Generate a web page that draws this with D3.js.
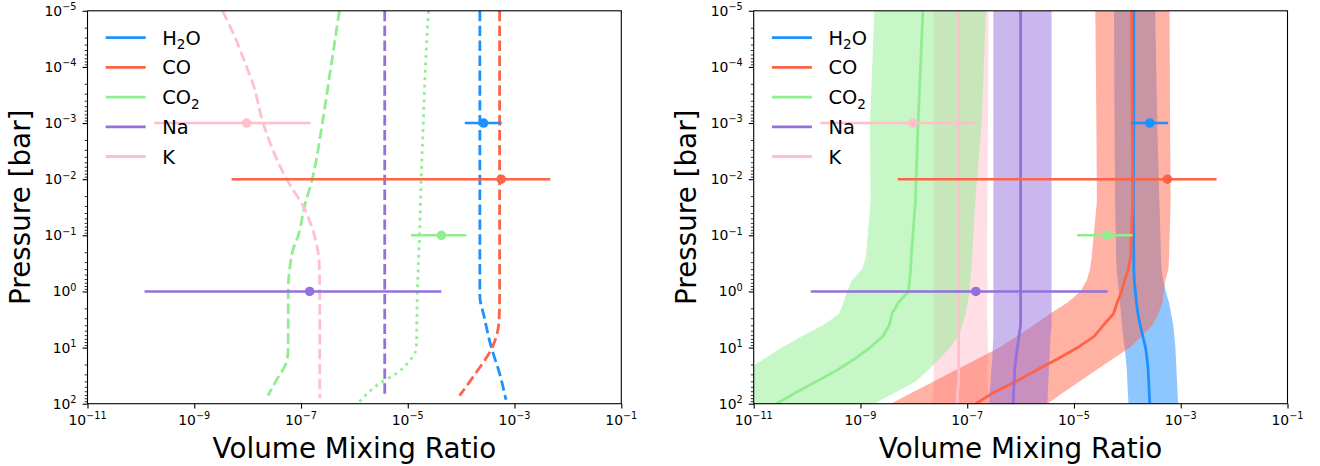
<!DOCTYPE html>
<html>
<head>
<meta charset="utf-8">
<script src="https://cdn.jsdelivr.net/npm/d3@7"></script>
<style>
  body { margin: 0; background: #fff; }
  text { font-family: "DejaVu Sans", sans-serif; fill: #000; }
</style>
</head>
<body>
<svg id="chart" width="1320" height="466"></svg>
<script>
// ---------------- data ----------------
const species = ["H2O", "CO", "CO2", "Na", "K"];

// measured abundances with uncertainty ranges (shown in both panels)
const obsPressure = [1e-3, 1e-2, 1e-1, 1, 1e-3];
const obsVmr  = [2.63e-4, 5.62e-4, 4.27e-5, 1.45e-7, 9.55e-9];
const obsLow  = [1.17e-4, 5.01e-9, 1.15e-5, 1.17e-10, 1.78e-10];
const obsHigh = [5.75e-4, 4.68e-3, 1.26e-4, 4.27e-5, 1.51e-7];

// model profiles (left panel)
const modelH2oP   = [1e-5, 1.2, 2.8, 9.5, 29, 85];
const modelH2oVmr = [2.24e-4, 2.24e-4, 2.69e-4, 3.63e-4, 5.25e-4, 6.92e-4];
const modelCoP    = [1e-5, 1.2, 3.2, 6.3, 10, 31.6, 72];
const modelCoVmr  = [5.25e-4, 5.25e-4, 5.13e-4, 4.57e-4, 3.80e-4, 1.74e-4, 9.33e-5];
const modelCo2P   = [1e-5, 1e-4, 1e-3, 1e-2, 3.16e-2, 0.1, 0.18, 0.32, 1, 10, 17.8, 38, 72];
const modelCo2Vmr = [5.25e-7, 3.63e-7, 2.51e-7, 1.62e-7, 1.15e-7, 8.91e-8, 7.08e-8, 6.31e-8, 5.75e-8, 5.75e-8, 5.37e-8, 3.47e-8, 2.40e-8];
const modelCo2AltP   = [1e-5, 1e-4, 1e-3, 1e-2, 0.1, 1, 10, 17.8, 28.8, 43.7, 100];
const modelCo2AltVmr = [2.45e-5, 2.14e-5, 1.95e-5, 1.78e-5, 1.66e-5, 1.51e-5, 1.45e-5, 1.05e-5, 6.17e-6, 2.95e-6, 1.15e-6];
const modelNaP    = [1e-5, 80];
const modelNaVmr  = [3.7e-6, 3.7e-6];
const modelKP     = [1e-5, 3.4e-5, 1e-4, 2e-4, 1e-3, 1e-2, 3.16e-2, 0.1, 0.32, 1, 80];
const modelKVmr   = [3.39e-9, 6.17e-9, 9.55e-9, 1.26e-8, 1.95e-8, 5.37e-8, 1.12e-7, 1.78e-7, 2.19e-7, 2.24e-7, 2.24e-7];

// retrieved profiles: median and 1-sigma range (right panel)
const retPressure = [1e-5, 1e-3, 2.5e-2, 0.25, 0.4, 0.63, 1, 1.58, 2.5, 4.0, 6.3, 10, 15.8, 25, 40, 63, 100];
const h2oMedian = [1.32e-4, 1.32e-4, 1.29e-4, 1.32e-4, 1.32e-4, 1.35e-4, 1.41e-4, 1.48e-4, 1.58e-4, 1.74e-4, 1.95e-4, 2.19e-4, 2.34e-4, 2.45e-4, 2.51e-4, 2.57e-4, 2.63e-4];
const h2oLow    = [5.62e-5, 5.75e-5, 5.89e-5, 6.17e-5, 6.31e-5, 6.61e-5, 6.92e-5, 7.24e-5, 7.59e-5, 7.94e-5, 8.32e-5, 8.91e-5, 9.33e-5, 9.77e-5, 1.00e-4, 1.02e-4, 1.05e-4];
const h2oHigh   = [3.31e-4, 3.63e-4, 3.98e-4, 4.27e-4, 4.37e-4, 4.68e-4, 5.25e-4, 6.03e-4, 6.61e-4, 7.24e-4, 7.59e-4, 7.94e-4, 8.13e-4, 8.32e-4, 8.51e-4, 8.71e-4, 8.91e-4];
const coMedian  = [1.20e-4, 1.23e-4, 1.26e-4, 1.15e-4, 1.05e-4, 8.91e-5, 7.76e-5, 6.46e-5, 5.50e-5, 3.55e-5, 2.40e-5, 1.17e-5, 5.01e-6, 2.00e-6, 8.32e-7, 3.16e-7, 1.45e-7];
const coLow     = [2.51e-5, 2.63e-5, 2.69e-5, 2.14e-5, 2.00e-5, 1.74e-5, 1.32e-5, 7.59e-6, 3.55e-6, 1.74e-6, 8.51e-7, 3.98e-7, 1.58e-7, 6.03e-8, 2.40e-8, 9.33e-9, 3.72e-9];
const coHigh    = [6.17e-4, 6.31e-4, 6.46e-4, 6.03e-4, 5.89e-4, 5.13e-4, 4.79e-4, 4.57e-4, 3.80e-4, 2.95e-4, 1.86e-4, 1.12e-4, 5.37e-5, 2.63e-5, 1.29e-5, 6.31e-6, 3.16e-6];
const co2Median = [1.48e-8, 1.20e-8, 1.07e-8, 8.91e-9, 8.71e-9, 8.32e-9, 7.94e-9, 5.13e-9, 3.89e-9, 3.47e-9, 2.63e-9, 1.51e-9, 7.94e-10, 3.72e-10, 1.51e-10, 6.17e-11, 2.69e-11];
const co2Low    = [1.82e-9, 1.51e-9, 1.55e-9, 1.26e-9, 1.07e-9, 6.92e-10, 5.62e-10, 4.79e-10, 3.98e-10, 2.00e-10, 7.94e-11, 3.39e-11, 1.58e-11, 7.41e-12, 3.47e-12, 1.58e-12, 7.41e-13];
const co2High   = [2.24e-7, 1.86e-7, 1.41e-7, 1.23e-7, 1.20e-7, 1.15e-7, 1.12e-7, 1.02e-7, 9.33e-8, 8.13e-8, 6.76e-8, 4.79e-8, 3.02e-8, 1.86e-8, 1.10e-8, 4.47e-9, 1.78e-9];
const naMedian  = [1.00e-6, 1.00e-6, 1.00e-6, 1.00e-6, 1.00e-6, 1.00e-6, 1.00e-6, 1.00e-6, 1.00e-6, 1.00e-6, 9.33e-7, 8.71e-7, 8.13e-7, 7.76e-7, 7.59e-7, 7.41e-7, 7.24e-7];
const naLow     = [3.09e-7, 3.09e-7, 3.09e-7, 3.09e-7, 3.09e-7, 3.09e-7, 3.09e-7, 3.09e-7, 3.09e-7, 3.09e-7, 3.09e-7, 3.02e-7, 2.95e-7, 2.82e-7, 2.75e-7, 2.63e-7, 2.57e-7];
const naHigh    = [3.80e-6, 3.80e-6, 3.80e-6, 3.80e-6, 3.80e-6, 3.80e-6, 3.80e-6, 3.80e-6, 3.80e-6, 3.80e-6, 3.63e-6, 3.55e-6, 3.47e-6, 3.39e-6, 3.31e-6, 3.24e-6, 3.16e-6];
const kMedian   = [6.92e-8, 6.92e-8, 6.92e-8, 6.92e-8, 6.92e-8, 6.92e-8, 6.92e-8, 6.92e-8, 6.92e-8, 6.92e-8, 6.92e-8, 6.92e-8, 6.92e-8, 6.92e-8, 6.92e-8, 6.61e-8, 6.46e-8];
const kLow      = [2.34e-8, 2.34e-8, 2.34e-8, 2.34e-8, 2.34e-8, 2.34e-8, 2.34e-8, 2.34e-8, 2.34e-8, 2.34e-8, 2.34e-8, 2.34e-8, 2.34e-8, 2.34e-8, 2.34e-8, 2.29e-8, 2.24e-8];
const kHigh     = [2.51e-7, 2.45e-7, 2.40e-7, 2.34e-7, 2.34e-7, 2.40e-7, 2.40e-7, 2.34e-7, 2.34e-7, 2.40e-7, 2.40e-7, 2.45e-7, 2.45e-7, 2.40e-7, 2.40e-7, 2.45e-7, 2.45e-7];

// axis ticks
const xMajorTicks = [1e-11, 1e-9, 1e-7, 1e-5, 1e-3, 1e-1];
const yMajorTicks = [1e-5, 1e-4, 1e-3, 1e-2, 1e-1, 1, 10, 100];
const xAxisTitle = "Volume Mixing Ratio";
const yAxisTitle = "Pressure [bar]";

// ---------------- styling ----------------
const colors = { H2O: "#1E90FF", CO: "#FF6347", CO2: "#90EE90", Na: "#9370DB", K: "#FFC0CB" };
const panels = [
  { x0: 87.5,  x1: 621.3 },
  { x0: 753.7, x1: 1287.5 }
];
const plotTop = 10.8, plotBottom = 403.7;
const LW = 2.8;

const svg = d3.select("#chart");

const zip = (a, b) => a.map((v, i) => [v, b[i]]);

// "H2O" -> H, subscript 2, O
function labelWithSubscripts(textSel, label) {
  const parts = label.split(/(\d+)/).filter(s => s.length);
  let lowered = false;
  parts.forEach(part => {
    const isDigit = /^\d+$/.test(part);
    const ts = textSel.append("tspan").text(part);
    if (isDigit && !lowered) { ts.attr("dy", 4.5).attr("font-size", "0.7em"); lowered = true; }
    else if (!isDigit && lowered) { ts.attr("dy", -4.5); lowered = false; }
  });
}

// 1e-5 -> 10 with superscript −5
function powerLabel(textSel, value) {
  const e = Math.round(Math.log10(value));
  textSel.append("tspan").text("10");
  textSel.append("tspan").attr("dy", -5.6).attr("font-size", 9.7)
    .text(e < 0 ? "\u2212" + (-e) : String(e));
}

function buildPanel(idx) {
  const p = panels[idx];
  const x = d3.scaleLog().domain([1e-11, 1e-1]).range([p.x0, p.x1]);
  const y = d3.scaleLog().domain([1e-5, 1e2]).range([plotTop, plotBottom]);
  const g = svg.append("g");

  const clipId = "clip" + idx;
  svg.append("clipPath").attr("id", clipId)
    .append("rect").attr("x", p.x0).attr("y", plotTop)
    .attr("width", p.x1 - p.x0).attr("height", plotBottom - plotTop);
  const plot = g.append("g").attr("clip-path", `url(#${clipId})`);

  return { x, y, g, plot, p };
}

function drawErrorBars(panel) {
  const { x, y, plot } = panel;
  species.forEach((s, i) => {
    plot.append("line")
      .attr("x1", x(obsLow[i])).attr("x2", x(obsHigh[i]))
      .attr("y1", y(obsPressure[i])).attr("y2", y(obsPressure[i]))
      .attr("stroke", colors[s]).attr("stroke-width", 2.6);
    plot.append("circle")
      .attr("cx", x(obsVmr[i])).attr("cy", y(obsPressure[i])).attr("r", 4.8)
      .attr("fill", colors[s]);
  });
}

function drawAxes(panel) {
  const { x, y, g, p } = panel;

  // y minor ticks
  const yMinor = [];
  for (let e = -5; e < 2; e++) for (let k = 2; k <= 9; k++) yMinor.push(k * Math.pow(10, e));
  const yMinorAxis = g.append("g").attr("transform", `translate(${p.x0},0)`)
    .call(d3.axisLeft(y).tickValues(yMinor).tickSize(2.8).tickFormat(""));
  yMinorAxis.select(".domain").remove();
  yMinorAxis.selectAll("line").attr("stroke", "#000").attr("stroke-width", 0.8);

  const yAxis = g.append("g").attr("transform", `translate(${p.x0},0)`)
    .call(d3.axisLeft(y).tickValues(yMajorTicks).tickSize(4.9).tickFormat(""));
  yAxis.select(".domain").remove();
  yAxis.selectAll("line").attr("stroke", "#000").attr("stroke-width", 1.1);

  const xAxis = g.append("g").attr("transform", `translate(0,${plotBottom})`)
    .call(d3.axisBottom(x).tickValues(xMajorTicks).tickSize(4.9).tickFormat(""));
  xAxis.select(".domain").remove();
  xAxis.selectAll("line").attr("stroke", "#000").attr("stroke-width", 1.1);

  // tick labels
  yMajorTicks.forEach(v => {
    const t = g.append("text").attr("x", p.x0 - 11).attr("y", y(v) + 5)
      .attr("text-anchor", "end").attr("font-size", 13.9);
    powerLabel(t, v);
  });
  xMajorTicks.forEach(v => {
    const t = g.append("text").attr("x", x(v)).attr("y", 425)
      .attr("text-anchor", "middle").attr("font-size", 13.9);
    powerLabel(t, v);
  });

  // axis titles
  g.append("text").attr("x", (p.x0 + p.x1) / 2).attr("y", 458)
    .attr("text-anchor", "middle").attr("font-size", 27.8).text(xAxisTitle);
  g.append("text")
    .attr("transform", `translate(${p.x0 - 58},${(plotTop + plotBottom) / 2}) rotate(-90)`)
    .attr("text-anchor", "middle").attr("font-size", 27.8).text(yAxisTitle);

  // frame
  g.append("rect").attr("x", p.x0).attr("y", plotTop)
    .attr("width", p.x1 - p.x0).attr("height", plotBottom - plotTop)
    .attr("fill", "none").attr("stroke", "#000").attr("stroke-width", 1.1);
}

function drawLegend(panel) {
  const { g, p } = panel;
  const lx = p.x0 + 18.2, rowY0 = 37.7, rowStep = 29.7;
  species.forEach((s, i) => {
    const ry = rowY0 + i * rowStep;
    g.append("line").attr("x1", lx).attr("x2", lx + 40).attr("y1", ry).attr("y2", ry)
      .attr("stroke", colors[s]).attr("stroke-width", LW);
    const t = g.append("text").attr("x", lx + 56.5).attr("y", ry + 7).attr("font-size", 19.4);
    labelWithSubscripts(t, s);
  });
}

// ---------- left panel: model profiles ----------
const left = buildPanel(0);
{
  const { x, y, plot } = left;
  const line = d3.line().x(d => x(d[1])).y(d => y(d[0])).curve(d3.curveMonotoneY);
  const dashed = "10.4,4.5", dotted = "2.8,4.6";
  const models = [
    { s: "CO2", P: modelCo2AltP, V: modelCo2AltVmr, dash: dotted },
    { s: "CO2", P: modelCo2P, V: modelCo2Vmr, dash: dashed },
    { s: "K",   P: modelKP,   V: modelKVmr,   dash: dashed },
    { s: "Na",  P: modelNaP,  V: modelNaVmr,  dash: dashed },
    { s: "H2O", P: modelH2oP, V: modelH2oVmr, dash: dashed },
    { s: "CO",  P: modelCoP,  V: modelCoVmr,  dash: dashed }
  ];
  models.forEach(m => {
    plot.append("path").attr("d", line(zip(m.P, m.V)))
      .attr("fill", "none").attr("stroke", colors[m.s]).attr("stroke-width", LW)
      .attr("stroke-dasharray", m.dash);
  });
  drawErrorBars(left);
  drawLegend(left);
  drawAxes(left);
}

// ---------- right panel: retrieved profiles ----------
const right = buildPanel(1);
{
  const { x, y, plot } = right;
  const retrieved = {
    H2O: [h2oMedian, h2oLow, h2oHigh],
    CO:  [coMedian, coLow, coHigh],
    CO2: [co2Median, co2Low, co2High],
    Na:  [naMedian, naLow, naHigh],
    K:   [kMedian, kLow, kHigh]
  };
  const area = d3.area()
    .y(d => y(d.p)).x0(d => x(d.lo)).x1(d => x(d.hi));
  const line = d3.line().x(d => x(d[1])).y(d => y(d[0]));

  // shaded 1-sigma ranges
  ["K", "H2O", "CO", "CO2", "Na"].forEach(s => {
    const [, lo, hi] = retrieved[s];
    const pts = retPressure.map((pp, i) => ({ p: pp, lo: lo[i], hi: hi[i] }));
    plot.append("path").attr("d", area(pts))
      .attr("fill", colors[s]).attr("fill-opacity", 0.5).attr("stroke", "none");
  });
  // median profiles
  species.forEach(s => {
    const med = retrieved[s][0];
    plot.append("path").attr("d", line(zip(retPressure, med)))
      .attr("fill", "none").attr("stroke", colors[s]).attr("stroke-width", LW);
  });
  drawErrorBars(right);
  drawLegend(right);
  drawAxes(right);
}
</script>
</body>
</html>
